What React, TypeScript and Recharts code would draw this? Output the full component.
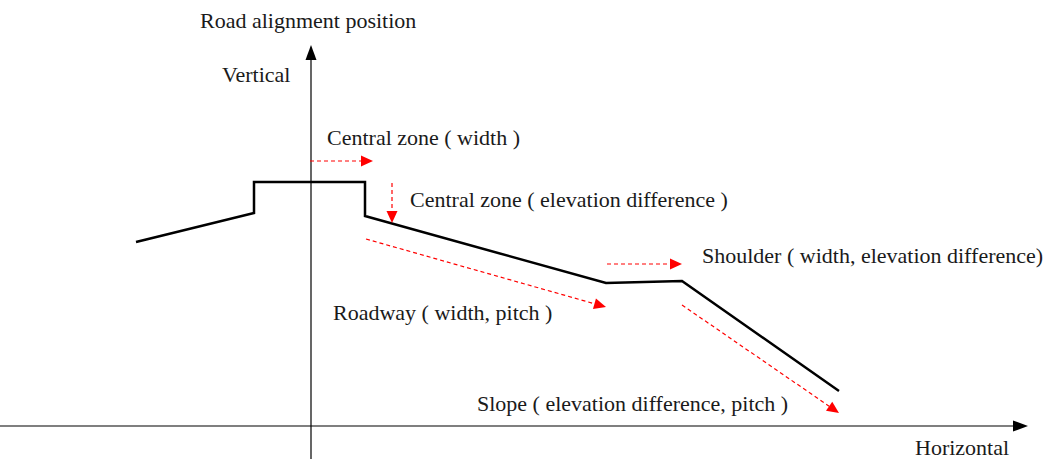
import React from 'react';
import { LineChart, Line, XAxis, YAxis, ReferenceLine, ReferenceDot } from 'recharts';

// road cross-section profile, in units from the axis origin
const profileX = [-175, -57, -57, 54, 54, 295, 371, 528];
const profileY = [184, 213, 244, 244, 210, 143, 145, 35];

// red dashed parameter arrows: [x1, y1, x2, y2]
const arrowNames = ['centralWidth', 'centralDrop', 'roadway', 'shoulder', 'slope'];
const arrowFrom = [[-1, 265], [81, 243], [55, 187], [296, 162], [371, 121]];
const arrowTo = [[62, 265], [81, 203], [295, 119], [371, 162], [528, 13]];

// annotation texts and their anchor (left, baseline)
const labelTexts = [
  'Road alignment position',
  'Vertical',
  'Central zone ( width )',
  'Central zone ( elevation difference )',
  'Shoulder ( width, elevation difference)',
  'Roadway ( width, pitch )',
  'Slope ( elevation difference, pitch )',
  'Horizontal',
];
const labelX = [-111, -89, 16, 99, 391, 22, 166, 604];
const labelY = [398, 344, 281, 219, 163, 106, 15, -29];

const profileData = profileX.map((x, i) => ({ x, y: profileY[i] }));

const W = 1051;
const H = 459;

const makeArrow = (color: string, width: number, dash: string | undefined, headLen: number, headHalf: number) =>
  (props: any) => {
    const { x1, y1, x2, y2 } = props;
    const dx = x2 - x1;
    const dy = y2 - y1;
    const len = Math.sqrt(dx * dx + dy * dy) || 1;
    const ux = dx / len;
    const uy = dy / len;
    const bx = x2 - ux * headLen;
    const by = y2 - uy * headLen;
    const px = -uy * headHalf;
    const py = ux * headHalf;
    return (
      <g>
        <line x1={x1} y1={y1} x2={bx} y2={by} stroke={color} strokeWidth={width} strokeDasharray={dash} />
        <polygon points={`${x2},${y2} ${bx + px},${by + py} ${bx - px},${by - py}`} fill={color} />
      </g>
    );
  };

const redArrow = makeArrow('#ff0000', 1.2, '4 3', 12, 5.5);
const axisArrow = makeArrow('#000000', 1.2, undefined, 15, 5.5);

const textShape = (text: string) => (props: any) => (
  <text
    x={props.cx}
    y={props.cy}
    fill="#1a1a1a"
    fontSize={22}
    fontFamily="'Liberation Serif', 'Times New Roman', serif"
    textAnchor="start"
  >
    {text}
  </text>
);

export default function App() {
  return (
    <div style={{ width: W, height: H, background: '#fff' }}>
      <style>{'body { margin: 0; }'}</style>
      <LineChart width={W} height={H} data={profileData} margin={{ top: 0, right: 0, bottom: 0, left: 0 }}>
        <XAxis dataKey="x" type="number" domain={[-311, 740]} hide allowDataOverflow />
        <YAxis type="number" domain={[-33, 426]} hide allowDataOverflow />
        {/* axes */}
        <ReferenceLine segment={[{ x: -311, y: 0 }, { x: 717, y: 0 }]} shape={axisArrow} ifOverflow="visible" />
        <ReferenceLine segment={[{ x: 0, y: -33 }, { x: 0, y: 381 }]} shape={axisArrow} ifOverflow="visible" />
        <Line
          type="linear"
          dataKey="y"
          stroke="#000"
          strokeWidth={2.5}
          dot={false}
          activeDot={false}
          isAnimationActive={false}
        />
        {arrowNames.map((name, i) => (
          <ReferenceLine
            key={name}
            segment={[
              { x: arrowFrom[i][0], y: arrowFrom[i][1] },
              { x: arrowTo[i][0], y: arrowTo[i][1] },
            ]}
            shape={redArrow}
            ifOverflow="visible"
          />
        ))}
        {labelTexts.map((t, i) => (
          <ReferenceDot key={t} x={labelX[i]} y={labelY[i]} r={0} shape={textShape(t)} ifOverflow="visible" />
        ))}
      </LineChart>
    </div>
  );
}
